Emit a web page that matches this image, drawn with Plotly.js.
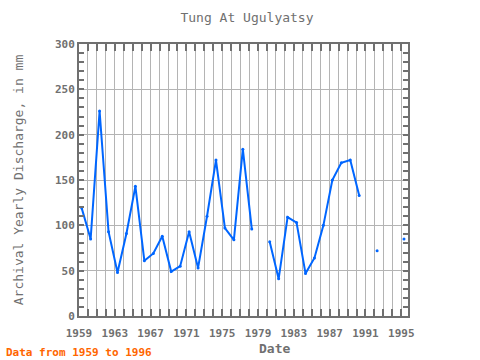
<!DOCTYPE html>
<html><head><meta charset="utf-8">
<script src="https://cdn.plot.ly/plotly-3.0.1.min.js"></script>
<style>body{margin:0;background:#fff;}#chart{width:480px;height:360px;}</style>
</head><body><div id="chart"></div>
<script>
const years = [1959,1960,1961,1962,1963,1964,1965,1966,1967,1968,1969,1970,1971,1972,1973,1974,1975,1976,1977,1978,1979,1980,1981,1982,1983,1984,1985,1986,1987,1988,1989,1990,1991,1992,1993,1994,1995];
const discharge = [119,85,226,93,48,91,143,61,69,88,49,55,93,53,110,172,97,84,184,96,null,82,41,109,103,47,64,100,150,169,172,133,null,72,null,null,85];
const xTickVals = [1959,1963,1967,1971,1975,1979,1983,1987,1991,1995];
const yTickVals = [0,50,100,150,200,250,300];

const gray = '#707070';
const mono = '"DejaVu Sans Mono", monospace';
const xOffset = 0.3; // marks sit a little after the year gridline in the reference

const trace = {
  x: years.map(y => y + xOffset),
  y: discharge,
  type: 'scatter',
  mode: 'lines+markers',
  connectgaps: false,
  line: {color: '#0066ff', width: 2},
  marker: {color: '#0066ff', size: 3},
  hoverinfo: 'x+y'
};

const layout = {
  width: 480, height: 360,
  paper_bgcolor: '#fff', plot_bgcolor: '#fff',
  margin: {l: 79, r: 72, t: 44, b: 44},
  showlegend: false,
  title: {text: 'Tung At Ugulyatsy', font: {family: mono, size: 13, color: gray},
          xref: 'container', x: 247/480, xanchor: 'center', yref: 'container', y: 1 - 17/360, yanchor: 'middle'},
  xaxis: {
    range: [1959, 1995.75],
    tickmode: 'array', tickvals: xTickVals, ticktext: xTickVals.map(String),
    ticks: 'inside', ticklen: 7, tickwidth: 2, tickcolor: gray,
    ticklabelstandoff: 6,
    showgrid: true, gridcolor: '#b4b4b4', gridwidth: 1,
    minor: {dtick: 1, tick0: 1959, ticks: 'inside', ticklen: 7, tickwidth: 2, tickcolor: gray, showgrid: true, gridcolor: '#b4b4b4', gridwidth: 1},
    showline: true, linecolor: gray, linewidth: 2, mirror: 'ticks',
    zeroline: false,
    tickfont: {family: mono, size: 11, color: gray, weight: 'bold'}
  },
  yaxis: {
    range: [0, 300],
    tickmode: 'array', tickvals: yTickVals, ticktext: yTickVals.map(String),
    ticks: 'inside', ticklen: 5, tickwidth: 2, tickcolor: gray,
    showgrid: true, gridcolor: '#b4b4b4', gridwidth: 1,
    minor: {dtick: 10, tick0: 0, ticks: 'inside', ticklen: 5, tickwidth: 2, tickcolor: gray, showgrid: false},
    showline: true, linecolor: gray, linewidth: 2, mirror: 'ticks',
    zeroline: false,
    tickfont: {family: mono, size: 11, color: gray, weight: 'bold'},
    title: {text: 'Archival Yearly Discharge, in mm', font: {family: mono, size: 13, color: gray}, standoff: 28}
  },
  annotations: [
    {text: 'Date', xref: 'paper', x: (274-79)/(408-79), xanchor: 'center', yref: 'paper', y: -(348-316)/272, yanchor: 'middle',
     showarrow: false, font: {family: mono, size: 13, color: gray, weight: 'bold'}},
    {text: 'Data from 1959 to 1996', xref: 'paper', x: -(79-4)/329, xanchor: 'left', yref: 'paper', y: -(352-316)/272, yanchor: 'middle',
     showarrow: false, font: {family: mono, size: 11, color: '#ff6600', weight: 'bold'}}
  ]
};

Plotly.newPlot('chart', [trace], layout, {displayModeBar: false, staticPlot: true});
</script>
</body></html>
